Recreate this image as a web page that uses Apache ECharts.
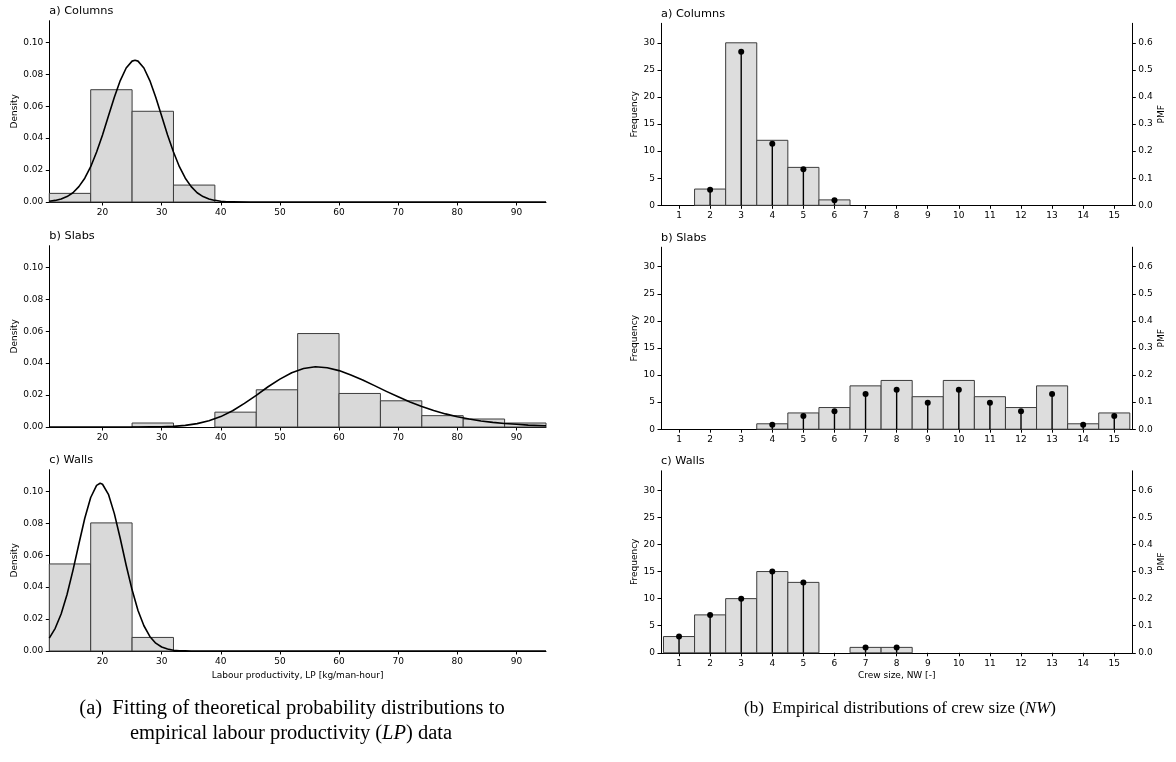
<!DOCTYPE html>
<html><head><meta charset="utf-8">
<script src="https://cdn.jsdelivr.net/npm/echarts@6/dist/echarts.min.js"></script>
<style>html,body{margin:0;padding:0;background:#fff}#c{width:1176px;height:762px}</style>
</head><body><div id="c"></div>
<script>
// ---------- Left column: labour productivity histograms (density) ----------
const lpEdges = [11,18,25,32,39,46,53,60,67,74,81,88,95];
const lpTicks = [20,30,40,50,60,70,80,90];
const densityTicks = [0,0.02,0.04,0.06,0.08,0.10];
const colDensity  = [0.0054,0.0703,0.0568,0.0106,0,0,0,0,0,0,0,0];
const slabDensity = [0,0,0.0025,0,0.0093,0.0233,0.0585,0.0210,0.0164,0.0071,0.0050,0.0025];
const wallDensity = [0.0545,0.0802,0.0085,0,0,0,0,0,0,0,0,0];

// fitted curves
const colFitX = [11,12,13,14,15,16,17,18,19,20,21,22,23,24,25,25.5,26,27,28,29,30,31,32,33,34,35,36,37,38,39,40,41,42,45,50,60,70,80,95];
const colFitY = [0.0005,0.0010,0.0019,0.0034,0.0058,0.0096,0.0149,0.0221,0.0313,0.0420,0.0538,0.0656,0.0760,0.0839,0.0882,0.0887,0.0882,0.0839,0.0760,0.0656,0.0538,0.0420,0.0313,0.0221,0.0149,0.0096,0.0058,0.0034,0.0019,0.0010,0.0005,0.0002,0.0001,0,0,0,0,0,0];
const slabFitX = [11,20,26,28,30,32,34,36,38,40,42,44,46,48,50,52,54,56,58,60,62,64,66,68,70,72,74,76,78,80,82,84,86,88,90,92,95];
const slabFitY = [0,0,0,0.0001,0.0002,0.0004,0.0010,0.0021,0.0039,0.0065,0.0102,0.0148,0.0198,0.0252,0.0300,0.0340,0.0366,0.0377,0.0371,0.0353,0.0326,0.0294,0.0259,0.0223,0.0189,0.0156,0.0128,0.0103,0.0082,0.0064,0.0050,0.0038,0.0029,0.0022,0.0017,0.0012,0.0008];
const wallFitX = [11,12,13,14,15,16,17,18,19,19.6,20,21,22,23,24,25,26,27,28,29,30,31,32,33,34,35,40,50,60,70,80,95];
const wallFitY = [0.0081,0.0142,0.0232,0.0354,0.0505,0.0670,0.0831,0.0961,0.1037,0.1050,0.1044,0.0981,0.0860,0.0704,0.0537,0.0383,0.0254,0.0158,0.0091,0.0049,0.0025,0.0012,0.0005,0.0002,0.0001,0,0,0,0,0,0,0];

// ---------- Right column: crew size ----------
const crewSizes = [1,2,3,4,5,6,7,8,9,10,11,12,13,14,15];
const freqTicks = [0,5,10,15,20,25,30];
const pmfTicks = [0,0.1,0.2,0.3,0.4,0.5,0.6];
const colFreq  = [0,3,30,12,7,1,0,0,0,0,0,0,0,0,0];
const slabFreq = [0,0,0,1,3,4,8,9,6,9,6,4,8,1,3];
const wallFreq = [3,7,10,15,13,0,1,1,0,0,0,0,0,0,0];
const colPmf  = [0,0.057,0.567,0.227,0.133,0.019,0,0,0,0,0,0,0,0,0];
const slabPmf = [0,0,0,0.016,0.049,0.066,0.130,0.146,0.098,0.146,0.098,0.066,0.130,0.016,0.049];
const wallPmf = [0.06,0.14,0.20,0.30,0.26,0,0.02,0.02,0,0,0,0,0,0,0];

const panelTitles = ['a) Columns','b) Slabs','c) Walls'];

const FONT = 'DejaVu Sans';
const SERIF = 'Liberation Serif';

const L = {left:49.3, width:496.7, tops:[20.7,245.7,469.7], height:181.3};
const R = {left:661, width:471.3, tops:[23.3,247.2,470.8], height:182};

const grids = [], xAxes = [], yAxes = [], series = [], graphics = [];

function tickLabel(extra){ return Object.assign({color:'#000', fontSize:9, fontFamily:FONT}, extra); }
const spine = {show:true, onZero:false, lineStyle:{color:'#000', width:1}};
const tick = vals => ({show:true, customValues:vals, length:3.5, inside:false, lineStyle:{color:'#000', width:1}});

function histSeries(xi, yi, edges, heights, fill){
  const data = [];
  heights.forEach((h,i)=>{ if(h>0) data.push([edges[i], edges[i+1], h]); });
  return {type:'custom', xAxisIndex:xi, yAxisIndex:yi, data, z:2, silent:true,
    encode:{x:[0,1], y:2},
    renderItem:(params, api)=>{
      const p0 = api.coord([api.value(0), api.value(2)]);
      const p1 = api.coord([api.value(1), 0]);
      return {type:'rect', shape:{x:p0[0], y:p0[1], width:p1[0]-p0[0], height:p1[1]-p0[1]},
        style:{fill:fill, stroke:'#3c3c3c', lineWidth:1}};
    }};
}

const lpDens = [colDensity, slabDensity, wallDensity];
const lpFits = [[colFitX,colFitY],[slabFitX,slabFitY],[wallFitX,wallFitY]];
for(let i=0;i<3;i++){
  grids.push({left:L.left, top:L.tops[i], width:L.width, height:L.height});
  xAxes.push({gridIndex:i, type:'value', min:11, max:95,
    axisLine:spine, axisTick:tick(lpTicks), splitLine:{show:false},
    axisLabel:tickLabel({customValues:lpTicks, margin:6}),
    name: i===2 ? 'Labour productivity, LP [kg/man-hour]' : '', nameLocation:'middle', nameGap:20,
    nameTextStyle:{color:'#000', fontSize:9, fontFamily:FONT}});
  yAxes.push({gridIndex:i, type:'value', min:0, max:0.1135,
    axisLine:spine, axisTick:tick(densityTicks), splitLine:{show:false},
    axisLabel:tickLabel({customValues:densityTicks, margin:6, formatter:v=>v.toFixed(2)}),
    name:'Density', nameLocation:'middle', nameGap:30, nameRotate:90,
    nameTextStyle:{color:'#000', fontSize:9, fontFamily:FONT}});
  series.push(histSeries(xAxes.length-1, yAxes.length-1, lpEdges, lpDens[i], '#d9d9d9'));
  const fx = lpFits[i][0], fy = lpFits[i][1];
  series.push({type:'line', xAxisIndex:xAxes.length-1, yAxisIndex:yAxes.length-1,
    data: fx.map((x,k)=>[x, fy[k]]), showSymbol:false, smooth:false,
    lineStyle:{color:'#000', width:1.6, join:'round'}, z:4, silent:true});
  graphics.push({type:'text', x:L.left, y:L.tops[i]-10, style:{text:panelTitles[i], fill:'#000',
    fontSize:11.3, fontFamily:FONT, align:'left', verticalAlign:'middle'}});
}

const crewFreq = [colFreq, slabFreq, wallFreq];
const crewPmf = [colPmf, slabPmf, wallPmf];
const crewEdges = [0.5].concat(crewSizes.map(v=>v+0.5));
for(let i=0;i<3;i++){
  const g = grids.length;
  grids.push({left:R.left, top:R.tops[i], width:R.width, height:R.height});
  xAxes.push({gridIndex:g, type:'value', min:0.42, max:15.58,
    axisLine:spine, axisTick:tick(crewSizes), splitLine:{show:false},
    axisLabel:tickLabel({customValues:crewSizes, margin:6}),
    name: i===2 ? 'Crew size, NW [-]' : '', nameLocation:'middle', nameGap:18,
    nameTextStyle:{color:'#000', fontSize:9, fontFamily:FONT}});
  const xi = xAxes.length-1;
  yAxes.push({gridIndex:g, type:'value', min:0, max:33.6, position:'left',
    axisLine:spine, axisTick:tick(freqTicks), splitLine:{show:false},
    axisLabel:tickLabel({customValues:freqTicks, margin:6}),
    name:'Frequency', nameLocation:'middle', nameGap:22, nameRotate:90,
    nameTextStyle:{color:'#000', fontSize:9, fontFamily:FONT}});
  const yf = yAxes.length-1;
  yAxes.push({gridIndex:g, type:'value', min:0, max:0.672, position:'right',
    axisLine:spine, axisTick:tick(pmfTicks), splitLine:{show:false},
    axisLabel:tickLabel({customValues:pmfTicks, margin:6, formatter:v=>v.toFixed(1)}),
    name:'PMF', nameLocation:'middle', nameGap:25, nameRotate:90,
    nameTextStyle:{color:'#000', fontSize:9, fontFamily:FONT}});
  const yp = yAxes.length-1;
  series.push(histSeries(xi, yf, crewEdges, crewFreq[i], '#dddddd'));
  const stemData = [];
  crewSizes.forEach((c,k)=>{ if(crewPmf[i][k]>0) stemData.push([c, crewPmf[i][k]]); });
  series.push({type:'custom', xAxisIndex:xi, yAxisIndex:yp, data:stemData, z:5, silent:true,
    encode:{x:0, y:1},
    renderItem:(params, api)=>{
      const top = api.coord([api.value(0), api.value(1)]);
      const base = api.coord([api.value(0), 0]);
      return {type:'group', children:[
        {type:'line', shape:{x1:base[0], y1:base[1], x2:top[0], y2:top[1]}, style:{stroke:'#000', lineWidth:1.4}},
        {type:'circle', shape:{cx:top[0], cy:top[1], r:3}, style:{fill:'#000'}}
      ]};
    }});
  graphics.push({type:'text', x:R.left, y:R.tops[i]-9.5, style:{text:panelTitles[i], fill:'#000',
    fontSize:11.3, fontFamily:FONT, align:'left', verticalAlign:'middle'}});
}

// captions
graphics.push({type:'text', x:292, y:709, style:{text:'(a)\u2002Fitting of theoretical probability distributions to',
  fill:'#000', fontSize:20.5, fontFamily:SERIF, align:'center', verticalAlign:'middle'}});
graphics.push({type:'text', x:291, y:734, style:{text:'empirical labour productivity ({i|LP}) data',
  fill:'#000', fontSize:20.5, fontFamily:SERIF, align:'center', verticalAlign:'middle',
  rich:{i:{fontStyle:'italic', fontSize:20.5, fontFamily:SERIF, fill:'#000'}}}});
graphics.push({type:'text', x:900, y:709, style:{text:'(b)\u2002Empirical distributions of crew size ({i|NW})',
  fill:'#000', fontSize:17, fontFamily:SERIF, align:'center', verticalAlign:'middle',
  rich:{i:{fontStyle:'italic', fontSize:17, fontFamily:SERIF, fill:'#000'}}}});

const chart = echarts.init(document.getElementById('c'), null, {renderer:'canvas'});
chart.setOption({animation:false, backgroundColor:'#fff', grid:grids, xAxis:xAxes, yAxis:yAxes, series, graphic:graphics});
</script></body></html>
